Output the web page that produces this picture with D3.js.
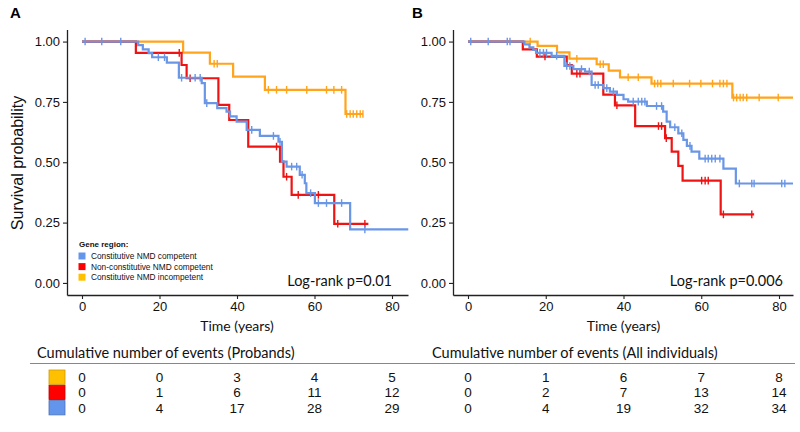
<!DOCTYPE html>
<html>
<head>
<meta charset="utf-8">
<script src="https://cdn.jsdelivr.net/npm/d3@7"></script>
<style>
  html, body { margin: 0; padding: 0; background: #fff; }
  svg { display: block; }
</style>
</head>
<body>
<svg id="chart" width="800" height="432"></svg>
<script>
// ---------------- DATA ----------------
const timeTicks = [0, 20, 40, 60, 80];
const survTicks = [0, 0.25, 0.5, 0.75, 1];
const groupNames = ["Constitutive NMD competent", "Non-constitutive NMD competent", "Constitutive NMD incompetent"];
const legendTitle = "Gene region:";
const panelLabels = ["A", "B"];
const pValues = ["Log-rank p=0.01", "Log-rank p=0.006"];
const tableTitles = ["Cumulative number of events (Probands)", "Cumulative number of events (All individuals)"];

// Panel A  (step start time, survival)
const aBlueSteps = [[0,1],[14.5,0.985],[15.7,0.968],[17.2,0.952],[18.1,0.935],[21.9,0.913],[25.0,0.850],[30.9,0.828],[31.7,0.745],[34.9,0.724],[37.3,0.71],[38.2,0.69],[39.9,0.668],[42.5,0.634],[45.9,0.609],[50.7,0.585],[51.6,0.503],[52.8,0.482],[56.2,0.448],[57.5,0.413],[57.9,0.372],[60.1,0.331],[69.2,0.222]];
const aBlueEnd = 84.2;
const aBlueCensor = [0.8, 5.1, 10, 19.7, 21.3, 25.7, 29.2, 30.5, 32.2, 43.8, 49.4, 51.1, 54.1, 55.4, 56.8, 59, 61, 63.1, 67, 73];

const aRedSteps = [[0,1],[13.9,0.953],[25.7,0.903],[27,0.848],[35.2,0.738],[38,0.675],[42.9,0.565],[51.1,0.503],[52,0.44],[54.1,0.365],[65.1,0.245]];
const aRedEnd = 73.9;
const aRedCensor = [25.1, 27.9, 50.2, 52.8, 55.8, 61, 66, 73];

const aOrangeSteps = [[0,1],[26.1,0.954],[33,0.908],[39,0.855],[47.2,0.80],[68,0.70]];
const aOrangeEnd = 72.5;
const aOrangeCensor = [34.1, 34.9, 48.1, 50.2, 52.8, 58, 63.1, 65, 67, 68.3, 69.2, 70, 70.9, 71.8, 72.5];

// Panel B
const bBlueSteps = [[0,1],[14.5,0.988],[15.8,0.976],[16.8,0.965],[17.5,0.953],[21.5,0.941],[24.8,0.899],[27.1,0.886],[30.1,0.876],[31.8,0.82],[34.8,0.807],[36.5,0.793],[38.3,0.779],[40,0.761],[41.2,0.751],[46,0.733],[50.2,0.71],[51.1,0.668],[52,0.645],[54.1,0.62],[55.4,0.593],[56.3,0.568],[57.5,0.544],[59.5,0.515],[65.7,0.474],[68.9,0.412]];
const bBlueEnd = 83.6;
const bBlueCensor = [0.7, 5.2, 10.1, 10.8, 18.5, 19.4, 20.2, 22.8, 25.4, 26.2, 29.2, 31.2, 32.7, 33.5, 35.7, 37.4, 42.5, 43.8, 44.7, 45.5, 48.5, 49.8, 53.2, 55, 57.1, 61, 61.8, 62.7, 63.6, 64.8, 69.8, 73, 73.6, 80.7, 81.5];

const bRedSteps = [[0,1],[14.1,0.968],[17.7,0.938],[25.4,0.903],[26.7,0.867],[34.8,0.78],[37.8,0.736],[43,0.65],[50.7,0.60],[52.4,0.544],[54.1,0.485],[55.2,0.424],[65,0.284]];
const bRedEnd = 73.6;
const bRedCensor = [19.8, 28, 28.8, 38.3, 49, 49.8, 51, 60.1, 61, 61.8, 65.7, 73];

const bOrangeSteps = [[0,1],[17.9,0.982],[22.9,0.955],[26.1,0.929],[33.1,0.906],[36.2,0.88],[39.1,0.852],[47.2,0.826],[68,0.768]];
const bOrangeEnd = 83.6;
const bOrangeCensor = [16, 28, 34, 34.8, 41.2, 43.8, 48, 48.8, 49.6, 52.8, 57, 59.9, 62.9, 64.8, 65.7, 66.6, 68.3, 69.1, 70, 70.8, 71.7, 74.9, 79.8];

// Cumulative number of events tables (rows: incompetent, non-constitutive, constitutive competent)
const eventsProbandsOrange = [0, 0, 3, 4, 5];
const eventsProbandsRed    = [0, 1, 6, 11, 12];
const eventsProbandsBlue   = [0, 4, 17, 28, 29];
const eventsAllOrange = [0, 1, 6, 7, 8];
const eventsAllRed    = [0, 2, 7, 13, 14];
const eventsAllBlue   = [0, 4, 19, 32, 34];

// ---------------- STYLE ----------------
const lineColors = { blue: "#6A96E6", red: "#EE1414", orange: "#FFA41B" };
const keyColors  = { blue: "#6495ED", red: "#FF0000", orange: "#FFC000" };
const keyStroke  = { blue: "#4A72B8", red: "#C00000", orange: "#D09A00" };
const numFont = "'Liberation Sans', Arial, sans-serif";
const textFont = "Lato, 'Open Sans', sans-serif";

const svg = d3.select("#chart");

const panels = [
  { label: panelLabels[0], labelX: 10, left: 67, right: 408, zeroX: 82, eightyX: 392,
    p: pValues[0], yLabel: true,
    curves: [
      { key: "orange", steps: aOrangeSteps, end: aOrangeEnd, censor: aOrangeCensor },
      { key: "red", steps: aRedSteps, end: aRedEnd, censor: aRedCensor },
      { key: "blue", steps: aBlueSteps, end: aBlueEnd, censor: aBlueCensor }
    ],
    table: { title: tableTitles[0], titleX: 37, rows: [["orange", eventsProbandsOrange], ["red", eventsProbandsRed], ["blue", eventsProbandsBlue]], keys: true }
  },
  { label: panelLabels[1], labelX: 412, left: 453, right: 793, zeroX: 468, eightyX: 779,
    p: pValues[1], yLabel: false,
    curves: [
      { key: "orange", steps: bOrangeSteps, end: bOrangeEnd, censor: bOrangeCensor },
      { key: "red", steps: bRedSteps, end: bRedEnd, censor: bRedCensor },
      { key: "blue", steps: bBlueSteps, end: bBlueEnd, censor: bBlueCensor }
    ],
    table: { title: tableTitles[1], titleX: 432, rows: [["orange", eventsAllOrange], ["red", eventsAllRed], ["blue", eventsAllBlue]], keys: false }
  }
];

const plotTop = 29.5, plotBottom = 295;
const y = d3.scaleLinear().domain([-0.05, 1.05]).range([plotBottom, plotTop]);

function survAt(steps, t) {
  let v = steps[0][1];
  for (const s of steps) { if (s[0] <= t) v = s[1]; }
  return v;
}

panels.forEach((P, pi) => {
  const perYear = (P.eightyX - P.zeroX) / 80;
  const x = d3.scaleLinear()
    .domain([(P.left - P.zeroX) / perYear, (P.right - P.zeroX) / perYear])
    .range([P.left, P.right]);

  const g = svg.append("g");

  // panel label
  g.append("text").attr("x", P.labelX).attr("y", 18)
    .attr("font-family", numFont).attr("font-weight", "bold").attr("font-size", 15)
    .attr("fill", "#000").text(P.label);

  // axes
  const yAxis = d3.axisLeft(y).tickValues(survTicks).tickFormat(d3.format(".2f")).tickSize(4).tickSizeOuter(0).tickPadding(3);
  const gy = g.append("g").attr("transform", `translate(${P.left},0)`).call(yAxis);
  const xAxis = d3.axisBottom(x).tickValues(timeTicks).tickFormat(d3.format("d")).tickSize(4).tickSizeOuter(0).tickPadding(3);
  const gx = g.append("g").attr("transform", `translate(0,${plotBottom})`).call(xAxis);
  [gx, gy].forEach(a => {
    a.select(".domain").attr("stroke", "#222").attr("stroke-width", 1.3);
    a.selectAll(".tick line").attr("stroke", "#222").attr("stroke-width", 1.1);
    a.selectAll(".tick text").attr("font-family", numFont).attr("font-size", 13).attr("fill", "#111");
  });

  // curves
  const line = d3.line().x(d => x(d[0])).y(d => y(d[1])).curve(d3.curveStepAfter);
  P.curves.forEach(c => {
    const pts = c.steps.concat([[c.end, c.steps[c.steps.length - 1][1]]]);
    g.append("path").attr("d", line(pts)).attr("fill", "none")
      .attr("stroke", lineColors[c.key]).attr("stroke-width", 2.2);
    g.selectAll(null).data(c.censor).enter().append("line")
      .attr("x1", d => x(d)).attr("x2", d => x(d))
      .attr("y1", d => y(survAt(c.steps, d)) - 3.8)
      .attr("y2", d => y(survAt(c.steps, d)) + 3.8)
      .attr("stroke", lineColors[c.key]).attr("stroke-width", 1.4);
  });

  // axis title
  g.append("text").attr("x", (P.zeroX + P.eightyX) / 2).attr("y", 331)
    .attr("text-anchor", "middle").attr("font-family", textFont).attr("font-size", 14)
    .attr("fill", "#111").text("Time (years)");

  // p-value
  g.append("text").attr("x", P.eightyX + (pi === 0 ? 0 : 4)).attr("y", 286)
    .attr("text-anchor", "end").attr("font-family", textFont).attr("font-size", 14.5)
    .attr("fill", "#111").text(P.p);

  if (P.yLabel) {
    g.append("text").attr("transform", `translate(23,163) rotate(-90)`)
      .attr("text-anchor", "middle").attr("font-family", numFont).attr("font-size", 16)
      .attr("fill", "#111").text("Survival probability");

    // legend
    const lg = g.append("g");
    lg.append("text").attr("x", 79).attr("y", 247).attr("font-family", numFont)
      .attr("font-weight", "bold").attr("font-size", 8).attr("fill", "#111").text(legendTitle);
    const legendKeys = ["blue", "red", "orange"];
    groupNames.forEach((name, i) => {
      const cy = 256 + i * 10.6;
      lg.append("rect").attr("x", 78.5).attr("y", cy - 3.5).attr("width", 7).attr("height", 7)
        .attr("fill", keyColors[legendKeys[i]]);
      lg.append("text").attr("x", 91).attr("y", cy + 3).attr("font-family", numFont)
        .attr("font-size", 8.3).attr("fill", "#111").text(name);
    });
  }

  // table
  const T = P.table;
  g.append("text").attr("x", T.titleX).attr("y", 358).attr("font-family", textFont)
    .attr("font-size", 14.5).attr("fill", "#111").text(T.title);
  T.rows.forEach((r, i) => {
    const cy = 377 + i * 15.3;
    if (T.keys) {
      g.append("rect").attr("x", 49).attr("y", cy - 7).attr("width", 16).attr("height", 14.3)
        .attr("fill", keyColors[r[0]]).attr("stroke", keyStroke[r[0]]).attr("stroke-width", 0.8);
    }
    g.selectAll(null).data(r[1]).enter().append("text")
      .attr("x", (d, j) => x(timeTicks[j])).attr("y", cy + 5)
      .attr("text-anchor", "middle").attr("font-family", numFont).attr("font-size", 13.5)
      .attr("fill", "#111").text(d => d);
  });
});

// separator line under table titles
svg.append("line").attr("x1", 30).attr("x2", 795).attr("y1", 363.5).attr("y2", 363.5)
  .attr("stroke", "#888").attr("stroke-width", 1);
</script>
</body>
</html>
